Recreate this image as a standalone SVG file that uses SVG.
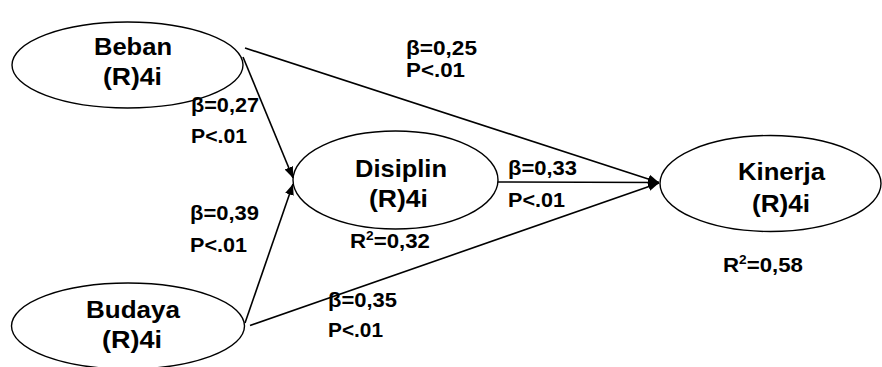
<svg xmlns="http://www.w3.org/2000/svg" width="882" height="367" viewBox="0 0 882 367">
<style>
.node ellipse{fill:#fff;stroke:#000;stroke-width:1.4}
text{font-family:"Liberation Sans",Arial,sans-serif;font-weight:bold;fill:#000}
.nt{font-size:24.5px}
.lb{font-size:19.5px}
.conn line{stroke:#000;stroke-width:1.6;marker-end:url(#arr)}
</style>
<defs>
<marker id="arr" markerUnits="userSpaceOnUse" markerWidth="12" markerHeight="10" refX="11" refY="5" orient="auto">
<path d="M0,0.5 L11,5 L0,9.5 Z" fill="#000"/>
</marker>
</defs>
<rect width="882" height="367" fill="#fff"/>
<g id="beban" class="node">
<ellipse cx="127.5" cy="65" rx="115.5" ry="43"/>
<text class="nt" x="94" y="55" textLength="78" lengthAdjust="spacingAndGlyphs">Beban</text>
<text class="nt" x="103" y="85" textLength="59" lengthAdjust="spacingAndGlyphs">(R)4i</text>
</g>
<g id="disiplin" class="node">
<ellipse cx="395.5" cy="180" rx="102.5" ry="49"/>
<text class="nt" x="355" y="177" textLength="92" lengthAdjust="spacingAndGlyphs">Disiplin</text>
<text class="nt" x="369" y="207" textLength="59" lengthAdjust="spacingAndGlyphs">(R)4i</text>
</g>
<g id="kinerja" class="node">
<ellipse cx="770.5" cy="183.5" rx="110.5" ry="48"/>
<text class="nt" x="738" y="180" textLength="87" lengthAdjust="spacingAndGlyphs">Kinerja</text>
<text class="nt" x="752" y="212" textLength="58" lengthAdjust="spacingAndGlyphs">(R)4i</text>
</g>
<g id="budaya" class="node">
<ellipse cx="128" cy="326" rx="116.5" ry="43"/>
<text class="nt" x="86" y="318" textLength="94" lengthAdjust="spacingAndGlyphs">Budaya</text>
<text class="nt" x="102" y="348" textLength="60" lengthAdjust="spacingAndGlyphs">(R)4i</text>
</g>
<g id="connectors" class="conn">
<line x1="245" y1="48" x2="659" y2="182.5"/>
<line x1="243" y1="57" x2="293" y2="178"/>
<line x1="498" y1="182" x2="659" y2="182.5"/>
<line x1="245" y1="323" x2="293" y2="184"/>
<line x1="250" y1="325.5" x2="659" y2="183"/>
</g>
<g id="labels">
<text class="lb" x="191" y="112" textLength="68" lengthAdjust="spacingAndGlyphs">β=0,27</text>
<text class="lb" x="191" y="143" textLength="56" lengthAdjust="spacingAndGlyphs">P&lt;.01</text>
<text class="lb" x="406" y="55" textLength="71" lengthAdjust="spacingAndGlyphs">β=0,25</text>
<text class="lb" x="406" y="77" textLength="59" lengthAdjust="spacingAndGlyphs">P&lt;.01</text>
<text class="lb" x="508" y="175" textLength="69" lengthAdjust="spacingAndGlyphs">β=0,33</text>
<text class="lb" x="508" y="207" textLength="57" lengthAdjust="spacingAndGlyphs">P&lt;.01</text>
<text class="lb" x="190" y="220" textLength="69" lengthAdjust="spacingAndGlyphs">β=0,39</text>
<text class="lb" x="190" y="252" textLength="57" lengthAdjust="spacingAndGlyphs">P&lt;.01</text>
<text class="lb" x="328" y="307" textLength="69" lengthAdjust="spacingAndGlyphs">β=0,35</text>
<text class="lb" x="328" y="337" textLength="55" lengthAdjust="spacingAndGlyphs">P&lt;.01</text>
<text class="lb" x="350" y="248" textLength="80" lengthAdjust="spacingAndGlyphs">R<tspan font-size="12" dy="-8">2</tspan><tspan dy="8">=0,32</tspan></text>
<text class="lb" x="723" y="272" textLength="80" lengthAdjust="spacingAndGlyphs">R<tspan font-size="12" dy="-8">2</tspan><tspan dy="8">=0,58</tspan></text>
</g>
</svg>
